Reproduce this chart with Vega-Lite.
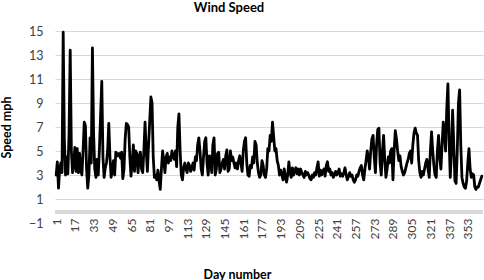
{
  "$schema": "https://vega.github.io/schema/vega-lite/v6.json",
  "width": 428,
  "height": 192,
  "autosize": {"type": "none"},
  "padding": {"left": 55, "top": 31, "right": 1, "bottom": 57},
  "background": "white",
  "config": {
    "view": {"stroke": null},
    "font": "Lato",
    "axisY": {
      "values": [-1, 1, 3, 5, 7, 9, 11, 13, 15],
      "grid": true, "gridColor": "#d9d9d9", "gridWidth": 1,
      "domain": false, "ticks": false, "labelPadding": 12, "labelOverlap": false, "labelFlush": false,
      "labelFontSize": 12.5, "labelColor": "#404040", "labelFont": "Lato",
      "titleFont": "Lato", "titleFontSize": 12.5, "titleFontWeight": "bold", "titleColor": "#000000",
      "titleX": -45, "titleY": 96, "titleAngle": 270, "titleAlign": "center", "titleBaseline": "alphabetic"
    }
  },
  "title": {"text": "Wind Speed", "font": "Lato", "fontSize": 13, "fontWeight": "bold", "color": "#000000", "anchor": "middle", "dx": -40, "offset": 10},
  "datasets": {
    "wind": [
      {"day":1,"mph":3.0},{"day":2,"mph":4.1},{"day":3,"mph":1.9},{"day":4,"mph":3.5},{"day":5,"mph":4.0},{"day":6,"mph":3.2},{"day":7,"mph":14.9},{"day":8,"mph":6.0},{"day":9,"mph":3.0},{"day":10,"mph":4.5},
      {"day":11,"mph":3.1},{"day":12,"mph":6.5},{"day":13,"mph":13.4},{"day":14,"mph":5.0},{"day":15,"mph":3.2},{"day":16,"mph":4.0},{"day":17,"mph":5.3},{"day":18,"mph":3.3},{"day":19,"mph":5.2},{"day":20,"mph":3.2},
      {"day":21,"mph":4.8},{"day":22,"mph":3.4},{"day":23,"mph":3.0},{"day":24,"mph":5.0},{"day":25,"mph":7.4},{"day":26,"mph":7.1},{"day":27,"mph":3.5},{"day":28,"mph":1.9},{"day":29,"mph":3.0},{"day":30,"mph":6.1},
      {"day":31,"mph":4.0},{"day":32,"mph":13.6},{"day":33,"mph":6.5},{"day":34,"mph":3.5},{"day":35,"mph":2.8},{"day":36,"mph":4.3},{"day":37,"mph":3.0},{"day":38,"mph":5.2},{"day":39,"mph":8.0},{"day":40,"mph":10.8},
      {"day":41,"mph":4.5},{"day":42,"mph":2.8},{"day":43,"mph":3.6},{"day":44,"mph":4.0},{"day":45,"mph":5.0},{"day":46,"mph":7.3},{"day":47,"mph":4.5},{"day":48,"mph":2.8},{"day":49,"mph":3.4},{"day":50,"mph":4.2},
      {"day":51,"mph":3.0},{"day":52,"mph":4.9},{"day":53,"mph":4.8},{"day":54,"mph":4.6},{"day":55,"mph":4.8},{"day":56,"mph":4.4},{"day":57,"mph":4.9},{"day":58,"mph":2.7},{"day":59,"mph":3.5},{"day":60,"mph":6.0},
      {"day":61,"mph":7.3},{"day":62,"mph":7.2},{"day":63,"mph":7.0},{"day":64,"mph":4.5},{"day":65,"mph":2.9},{"day":66,"mph":4.0},{"day":67,"mph":5.5},{"day":68,"mph":3.3},{"day":69,"mph":5.0},{"day":70,"mph":4.8},
      {"day":71,"mph":3.2},{"day":72,"mph":4.5},{"day":73,"mph":4.9},{"day":74,"mph":3.5},{"day":75,"mph":3.2},{"day":76,"mph":5.0},{"day":77,"mph":7.4},{"day":78,"mph":5.0},{"day":79,"mph":3.3},{"day":80,"mph":5.5},
      {"day":81,"mph":7.5},{"day":82,"mph":9.5},{"day":83,"mph":9.0},{"day":84,"mph":4.5},{"day":85,"mph":2.8},{"day":86,"mph":3.0},{"day":87,"mph":2.6},{"day":88,"mph":3.4},{"day":89,"mph":2.5},{"day":90,"mph":1.8},
      {"day":91,"mph":3.5},{"day":92,"mph":5.0},{"day":93,"mph":4.2},{"day":94,"mph":3.2},{"day":95,"mph":4.5},{"day":96,"mph":4.8},{"day":97,"mph":4.0},{"day":98,"mph":4.5},{"day":99,"mph":4.2},{"day":100,"mph":5.0},
      {"day":101,"mph":4.6},{"day":102,"mph":4.3},{"day":103,"mph":5.0},{"day":104,"mph":3.7},{"day":105,"mph":7.0},{"day":106,"mph":8.1},{"day":107,"mph":5.0},{"day":108,"mph":3.0},{"day":109,"mph":2.6},{"day":110,"mph":3.6},
      {"day":111,"mph":4.0},{"day":112,"mph":3.5},{"day":113,"mph":3.2},{"day":114,"mph":4.0},{"day":115,"mph":3.8},{"day":116,"mph":3.3},{"day":117,"mph":3.6},{"day":118,"mph":4.0},{"day":119,"mph":3.4},{"day":120,"mph":4.5},
      {"day":121,"mph":4.2},{"day":122,"mph":5.5},{"day":123,"mph":6.1},{"day":124,"mph":5.0},{"day":125,"mph":3.5},{"day":126,"mph":3.0},{"day":127,"mph":4.5},{"day":128,"mph":5.8},{"day":129,"mph":6.1},{"day":130,"mph":4.0},
      {"day":131,"mph":3.0},{"day":132,"mph":4.6},{"day":133,"mph":4.5},{"day":134,"mph":3.2},{"day":135,"mph":5.5},{"day":136,"mph":6.1},{"day":137,"mph":3.0},{"day":138,"mph":3.5},{"day":139,"mph":4.8},{"day":140,"mph":4.9},
      {"day":141,"mph":3.2},{"day":142,"mph":3.5},{"day":143,"mph":4.0},{"day":144,"mph":4.3},{"day":145,"mph":3.5},{"day":146,"mph":4.6},{"day":147,"mph":5.1},{"day":148,"mph":3.3},{"day":149,"mph":3.5},{"day":150,"mph":5.0},
      {"day":151,"mph":4.2},{"day":152,"mph":4.5},{"day":153,"mph":4.0},{"day":154,"mph":3.6},{"day":155,"mph":4.0},{"day":156,"mph":3.5},{"day":157,"mph":4.2},{"day":158,"mph":4.6},{"day":159,"mph":4.0},{"day":160,"mph":3.3},
      {"day":161,"mph":5.0},{"day":162,"mph":5.8},{"day":163,"mph":6.1},{"day":164,"mph":4.0},{"day":165,"mph":3.0},{"day":166,"mph":2.9},{"day":167,"mph":3.8},{"day":168,"mph":3.6},{"day":169,"mph":4.5},{"day":170,"mph":4.0},
      {"day":171,"mph":5.8},{"day":172,"mph":5.5},{"day":173,"mph":4.0},{"day":174,"mph":3.2},{"day":175,"mph":2.8},{"day":176,"mph":3.0},{"day":177,"mph":4.2},{"day":178,"mph":3.8},{"day":179,"mph":3.0},{"day":180,"mph":2.8},
      {"day":181,"mph":3.5},{"day":182,"mph":5.2},{"day":183,"mph":5.0},{"day":184,"mph":6.3},{"day":185,"mph":5.8},{"day":186,"mph":7.4},{"day":187,"mph":6.2},{"day":188,"mph":5.0},{"day":189,"mph":5.2},{"day":190,"mph":4.2},
      {"day":191,"mph":3.8},{"day":192,"mph":3.0},{"day":193,"mph":3.4},{"day":194,"mph":3.0},{"day":195,"mph":2.6},{"day":196,"mph":3.5},{"day":197,"mph":2.9},{"day":198,"mph":2.4},{"day":199,"mph":3.0},{"day":200,"mph":4.1},
      {"day":201,"mph":3.2},{"day":202,"mph":2.8},{"day":203,"mph":3.6},{"day":204,"mph":3.0},{"day":205,"mph":3.3},{"day":206,"mph":3.6},{"day":207,"mph":3.1},{"day":208,"mph":3.5},{"day":209,"mph":3.0},{"day":210,"mph":3.5},
      {"day":211,"mph":3.2},{"day":212,"mph":3.0},{"day":213,"mph":2.8},{"day":214,"mph":3.3},{"day":215,"mph":3.0},{"day":216,"mph":3.2},{"day":217,"mph":3.0},{"day":218,"mph":2.7},{"day":219,"mph":2.6},{"day":220,"mph":3.0},
      {"day":221,"mph":2.8},{"day":222,"mph":3.2},{"day":223,"mph":3.0},{"day":224,"mph":3.6},{"day":225,"mph":4.1},{"day":226,"mph":2.9},{"day":227,"mph":3.4},{"day":228,"mph":3.0},{"day":229,"mph":3.3},{"day":230,"mph":3.5},
      {"day":231,"mph":2.9},{"day":232,"mph":3.8},{"day":233,"mph":4.1},{"day":234,"mph":3.3},{"day":235,"mph":3.5},{"day":236,"mph":3.0},{"day":237,"mph":3.2},{"day":238,"mph":2.8},{"day":239,"mph":3.0},{"day":240,"mph":3.3},
      {"day":241,"mph":3.0},{"day":242,"mph":3.2},{"day":243,"mph":3.5},{"day":244,"mph":2.9},{"day":245,"mph":3.1},{"day":246,"mph":2.9},{"day":247,"mph":3.2},{"day":248,"mph":3.6},{"day":249,"mph":3.0},{"day":250,"mph":2.6},
      {"day":251,"mph":2.9},{"day":252,"mph":3.2},{"day":253,"mph":2.9},{"day":254,"mph":3.0},{"day":255,"mph":2.6},{"day":256,"mph":2.4},{"day":257,"mph":2.6},{"day":258,"mph":3.0},{"day":259,"mph":2.9},{"day":260,"mph":3.3},
      {"day":261,"mph":3.6},{"day":262,"mph":3.8},{"day":263,"mph":3.0},{"day":264,"mph":2.6},{"day":265,"mph":3.5},{"day":266,"mph":4.2},{"day":267,"mph":5.0},{"day":268,"mph":4.5},{"day":269,"mph":3.5},{"day":270,"mph":5.0},
      {"day":271,"mph":6.0},{"day":272,"mph":6.3},{"day":273,"mph":4.5},{"day":274,"mph":3.2},{"day":275,"mph":5.5},{"day":276,"mph":6.8},{"day":277,"mph":6.9},{"day":278,"mph":4.0},{"day":279,"mph":3.0},{"day":280,"mph":5.0},
      {"day":281,"mph":6.3},{"day":282,"mph":4.2},{"day":283,"mph":2.8},{"day":284,"mph":3.5},{"day":285,"mph":4.5},{"day":286,"mph":4.0},{"day":287,"mph":5.0},{"day":288,"mph":5.2},{"day":289,"mph":2.6},{"day":290,"mph":5.0},
      {"day":291,"mph":6.7},{"day":292,"mph":6.0},{"day":293,"mph":5.0},{"day":294,"mph":4.2},{"day":295,"mph":4.6},{"day":296,"mph":3.7},{"day":297,"mph":3.3},{"day":298,"mph":3.0},{"day":299,"mph":3.2},{"day":300,"mph":3.6},
      {"day":301,"mph":4.0},{"day":302,"mph":4.3},{"day":303,"mph":4.8},{"day":304,"mph":5.0},{"day":305,"mph":4.0},{"day":306,"mph":5.5},{"day":307,"mph":6.5},{"day":308,"mph":6.9},{"day":309,"mph":6.5},{"day":310,"mph":6.3},
      {"day":311,"mph":4.2},{"day":312,"mph":3.2},{"day":313,"mph":2.8},{"day":314,"mph":3.3},{"day":315,"mph":3.0},{"day":316,"mph":3.5},{"day":317,"mph":4.0},{"day":318,"mph":4.3},{"day":319,"mph":3.5},{"day":320,"mph":2.8},
      {"day":321,"mph":5.0},{"day":322,"mph":6.6},{"day":323,"mph":5.0},{"day":324,"mph":3.8},{"day":325,"mph":3.0},{"day":326,"mph":2.8},{"day":327,"mph":5.0},{"day":328,"mph":6.3},{"day":329,"mph":4.5},{"day":330,"mph":3.5},
      {"day":331,"mph":5.5},{"day":332,"mph":7.4},{"day":333,"mph":6.5},{"day":334,"mph":5.0},{"day":335,"mph":8.5},{"day":336,"mph":10.6},{"day":337,"mph":6.0},{"day":338,"mph":2.8},{"day":339,"mph":5.0},{"day":340,"mph":8.4},
      {"day":341,"mph":5.5},{"day":342,"mph":2.5},{"day":343,"mph":2.3},{"day":344,"mph":5.0},{"day":345,"mph":9.0},{"day":346,"mph":10.1},{"day":347,"mph":5.5},{"day":348,"mph":2.8},{"day":349,"mph":2.3},{"day":350,"mph":2.0},
      {"day":351,"mph":1.9},{"day":352,"mph":2.5},{"day":353,"mph":4.0},{"day":354,"mph":5.2},{"day":355,"mph":3.5},{"day":356,"mph":2.8},{"day":357,"mph":3.1},{"day":358,"mph":3.0},{"day":359,"mph":2.0},{"day":360,"mph":1.8},
      {"day":361,"mph":2.0},{"day":362,"mph":2.0},{"day":363,"mph":2.3},{"day":364,"mph":2.6},{"day":365,"mph":2.9}
    ],
    "baseline": [{"mph": 0}]
  },
  "layer": [
    {
      "data": {"name": "baseline"},
      "mark": {"type": "rule", "color": "#d9d9d9", "strokeWidth": 4, "yOffset": 1},
      "encoding": {
        "y": {
          "field": "mph", "type": "quantitative",
          "scale": {"domain": [-1, 15], "nice": false, "zero": false},
          "axis": {
            "title": "Speed mph", "labelOverlap": false,
            "values": [-1, 1, 3, 5, 7, 9, 11, 13, 15],
            "gridOpacity": {"condition": {"test": "datum.value < 0", "value": 0}, "value": 1}
          }
        }
      }
    },
    {
      "data": {"name": "wind"},
      "mark": {"type": "line", "color": "#000000", "strokeWidth": 2.8, "strokeJoin": "round", "strokeCap": "round"},
      "encoding": {
        "x": {
          "field": "day", "type": "quantitative",
          "scale": {"domain": [0, 366], "nice": false, "zero": false},
          "axis": {
            "values": [1, 17, 33, 49, 65, 81, 97, 113, 129, 145, 161, 177, 193, 209, 225, 241, 257, 273, 289, 305, 321, 337, 353],
            "labelAngle": 270, "labelAlign": "right", "labelBaseline": "middle", "labelPadding": -5,
            "labelFontSize": 12, "labelColor": "#404040", "labelFont": "Lato", "labelFlush": false, "labelOverlap": false,
            "ticks": false, "domain": false, "grid": false,
            "title": "Day number", "titleFont": "Lato", "titleFontSize": 12.5, "titleFontWeight": "bold", "titleColor": "#000000",
            "titleX": 182, "titleY": 55, "titleAlign": "center", "titleBaseline": "alphabetic"
          }
        },
        "y": {
          "field": "mph", "type": "quantitative",
          "scale": {"domain": [-1, 15], "nice": false, "zero": false},
          "axis": {
            "title": "Speed mph", "labelOverlap": false,
            "values": [-1, 1, 3, 5, 7, 9, 11, 13, 15],
            "gridOpacity": {"condition": {"test": "datum.value < 0", "value": 0}, "value": 1}
          }
        }
      }
    }
  ]
}
